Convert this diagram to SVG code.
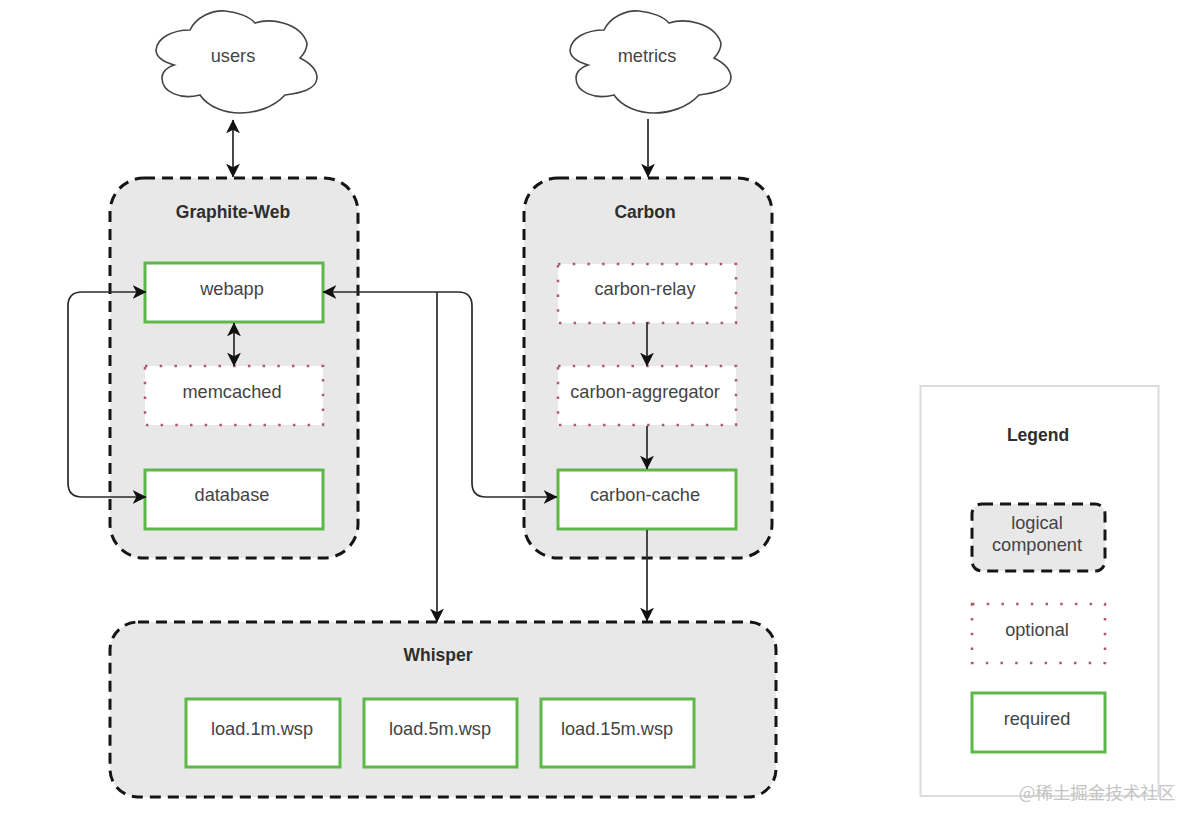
<svg xmlns="http://www.w3.org/2000/svg" width="1200" height="827" viewBox="0 0 1200 827">
<style>
text{font-family:"Liberation Sans",Arial,sans-serif;font-size:18.200px;fill:#444;text-anchor:middle}
.t{font-weight:bold;fill:#2e2e2e;font-size:17.500px}
.g{fill:#e8e8e8;stroke:#151515;stroke-width:3;stroke-dasharray:11 7}
.r{fill:#fff;stroke:#5cb848;stroke-width:3}
.o{fill:#fff;stroke:#b0586c;stroke-width:2.500;stroke-dasharray:2.500 12.200}
.c{fill:#fff;stroke:#444;stroke-width:1.600}
.l{fill:none;stroke:#2a2a2a;stroke-width:1.700}
</style>
<defs>
<marker id="a" markerUnits="userSpaceOnUse" markerWidth="15" markerHeight="15" refX="12.500" refY="6.500" orient="auto-start-reverse" viewBox="0 0 14 13"><path d="M0 0L13 6.500L0 13L3.500 6.500Z" fill="#111"/></marker>
<path id="cloud" d="M156 50C157 38 172 30 190 30C196 17 212 10 225 11C238 12 250 17 255 23C270 18 300 22 307 43C307 50 304 54 300 58C310 63 317 70 317 78C316 90 300 93 285 95C273 108 255 113 240 113C225 113 208 107 200 95C180 100 162 92 162 78C162 72 167 67 174 65C164 62 156 57 156 50Z"/>
</defs>
<g id="users"><use href="#cloud" class="c"/><text x="233" y="61.500">users</text></g>
<g id="metrics"><use href="#cloud" class="c" transform="translate(414 0)"/><text x="647" y="61.500">metrics</text></g>
<g id="graphite-web"><rect class="g" x="110" y="178" width="248" height="380" rx="34"/><text class="t" x="233" y="218">Graphite-Web</text></g>
<g id="carbon"><rect class="g" x="524" y="178" width="248" height="380" rx="34"/><text class="t" x="645" y="218">Carbon</text></g>
<g id="whisper"><rect class="g" x="110" y="622" width="666" height="175" rx="28"/><text class="t" x="438" y="661">Whisper</text></g>
<g id="webapp"><rect class="r" x="145" y="263" width="178" height="59"/><text x="232" y="295">webapp</text></g>
<g id="memcached"><rect class="o" x="145" y="366" width="178" height="59"/><text x="232" y="398">memcached</text></g>
<g id="database"><rect class="r" x="145" y="470" width="178" height="59"/><text x="232" y="501">database</text></g>
<g id="carbon-relay"><rect class="o" x="558" y="264" width="178" height="59"/><text x="645" y="295">carbon-relay</text></g>
<g id="carbon-aggregator"><rect class="o" x="558" y="366" width="178" height="59"/><text x="645" y="398">carbon-aggregator</text></g>
<g id="carbon-cache"><rect class="r" x="558" y="470" width="178" height="59"/><text x="645" y="501">carbon-cache</text></g>
<g id="load1"><rect class="r" x="186" y="699" width="154" height="68"/><text x="262" y="735">load.1m.wsp</text></g>
<g id="load5"><rect class="r" x="364" y="699" width="153" height="68"/><text x="440" y="735">load.5m.wsp</text></g>
<g id="load15"><rect class="r" x="541" y="699" width="153" height="68"/><text x="617" y="735">load.15m.wsp</text></g>
<g id="legend"><rect x="920.500" y="386" width="238" height="410" fill="#fff" stroke="#dcdcdc" stroke-width="2"/><text class="t" x="1038" y="441">Legend</text></g>
<g id="legend-logical"><rect class="g" x="972" y="504" width="133" height="67" rx="10"/><text x="1037" y="529">logical</text><text x="1037" y="551">component</text></g>
<g id="legend-optional"><rect class="o" x="972" y="604" width="133" height="59"/><text x="1037" y="636">optional</text></g>
<g id="legend-required"><rect class="r" x="972" y="693" width="133" height="59"/><text x="1037" y="725">required</text></g>
<g id="connectors">
<path class="l" d="M233 120V177" marker-start="url(#a)" marker-end="url(#a)"/>
<path class="l" d="M648 119V177" marker-end="url(#a)"/>
<path class="l" d="M146 292H82Q68 292 68 306V483Q68 497 82 497H146" marker-start="url(#a)" marker-end="url(#a)"/>
<path class="l" d="M234 323V366" marker-start="url(#a)" marker-end="url(#a)"/>
<path class="l" d="M323 292H458Q472 292 472 306V483Q472 497 486 497H557" marker-start="url(#a)" marker-end="url(#a)"/>
<path class="l" d="M437 292V622" marker-end="url(#a)"/>
<path class="l" d="M647 322V366" marker-end="url(#a)"/>
<path class="l" d="M647 426V469" marker-end="url(#a)"/>
<path class="l" d="M647 530V621" marker-end="url(#a)"/>
</g>
<text x="1097" y="799" style="font-family:'Noto Sans CJK SC','Liberation Sans',sans-serif;font-size:17.500px;fill:#c4c4c4">@稀土掘金技术社区</text>
</svg>
